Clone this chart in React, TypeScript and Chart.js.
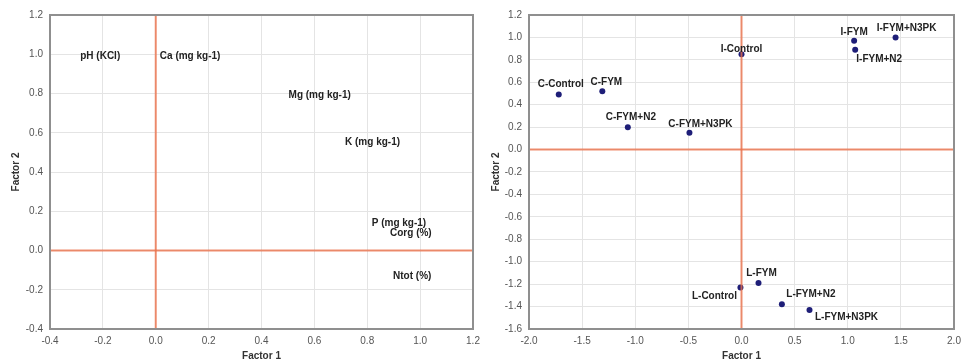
import React, { useEffect, useRef } from "react";
import { Chart, registerables } from "chart.js";

Chart.register(...registerables);

// ---- Data: factor loadings (left panel) ----
const loadingLabels = ["pH (KCl)", "Ca (mg kg-1)", "Mg (mg kg-1)", "K (mg kg-1)", "P (mg kg-1)", "Corg (%)", "Ntot (%)"];
const loadingF1 = [-0.21, 0.13, 0.62, 0.82, 0.92, 0.965, 0.97];
const loadingF2 = [0.99, 0.99, 0.79, 0.55, 0.14, 0.09, -0.13];

// ---- Data: factor scores (right panel) ----
const treatmentLabels = [
  "C-Control", "C-FYM", "C-FYM+N2", "C-FYM+N3PK",
  "I-Control", "I-FYM", "I-FYM+N2", "I-FYM+N3PK",
  "L-Control", "L-FYM", "L-FYM+N2", "L-FYM+N3PK",
];
const scoreF1 = [-1.72, -1.31, -1.07, -0.49, 0.0, 1.06, 1.07, 1.45, -0.01, 0.16, 0.38, 0.64];
const scoreF2 = [0.49, 0.52, 0.2, 0.15, 0.85, 0.97, 0.89, 1.0, -1.23, -1.19, -1.38, -1.43];

// ---- Tick labels ----
const leftXTicks = [-0.4, -0.2, 0.0, 0.2, 0.4, 0.6, 0.8, 1.0, 1.2];
const leftYTicks = [-0.4, -0.2, 0.0, 0.2, 0.4, 0.6, 0.8, 1.0, 1.2];
const rightXTicks = [-2.0, -1.5, -1.0, -0.5, 0.0, 0.5, 1.0, 1.5, 2.0];
const rightYTicks = [-1.6, -1.4, -1.2, -1.0, -0.8, -0.6, -0.4, -0.2, 0.0, 0.2, 0.4, 0.6, 0.8, 1.0, 1.2];
const refLines = [0];

const xTitle = "Factor 1";
const yTitle = "Factor 2";

// ---- Styles ----
const FONT = '"Liberation Sans", Arial, Helvetica, sans-serif';
const NAVY = "#1e1e78";
const GRID = "#e4e4e4";
const FRAME = "#8f8f8f";
const ZERO = "rgba(236,112,72,0.78)";
const TICK = "#555555";
const LABEL = "#222222";

// label offsets in px (style, not data)
const scoreLabelOffsets: Record<string, [number, number]> = {
  "C-Control": [2, -10],
  "C-FYM": [4, -9],
  "C-FYM+N2": [3, -10],
  "C-FYM+N3PK": [11, -9],
  "I-Control": [0, -5],
  "I-FYM": [0, -9],
  "I-FYM+N2": [24, 9],
  "I-FYM+N3PK": [11, -9],
  "L-Control": [-26, 9],
  "L-FYM": [3, -10],
  "L-FYM+N2": [29, -10],
  "L-FYM+N3PK": [37, 7],
};

type PanelProps = {
  labels: string[];
  xs: number[];
  ys: number[];
  xTicks: number[];
  yTicks: number[];
  pointRadius: number;
  offsets?: Record<string, [number, number]>;
  width: number;
  left: number;
  padRight: number;
  yAxisWidth: number;
};

function Panel(p: PanelProps) {
  const ref = useRef<HTMLCanvasElement | null>(null);
  useEffect(() => {
    if (!ref.current) return;
    const decor = {
      id: "decor",
      afterDatasetsDraw(chart: any) {
        const { ctx, chartArea: a, scales } = chart;
        const xs = scales.x;
        const ys = scales.y;
        ctx.save();
        ctx.strokeStyle = ZERO;
        ctx.lineWidth = 2;
        for (const v of refLines) {
          const px = xs.getPixelForValue(v);
          ctx.beginPath();
          ctx.moveTo(px, a.top);
          ctx.lineTo(px, a.bottom);
          ctx.stroke();
          const py = ys.getPixelForValue(v);
          ctx.beginPath();
          ctx.moveTo(a.left, py);
          ctx.lineTo(a.right, py);
          ctx.stroke();
        }
        ctx.strokeStyle = FRAME;
        ctx.lineWidth = 2;
        ctx.strokeRect(a.left, a.top, a.right - a.left, a.bottom - a.top);
        ctx.font = `bold 10px ${FONT}`;
        ctx.fillStyle = LABEL;
        ctx.textAlign = "center";
        ctx.textBaseline = "middle";
        const meta = chart.getDatasetMeta(0);
        meta.data.forEach((pt: any, i: number) => {
          const lab = p.labels[i];
          const off = (p.offsets && p.offsets[lab]) || [0, 0];
          ctx.fillText(lab, pt.x + off[0], pt.y + off[1]);
        });
        ctx.restore();
      },
    };
    const tickFont = { family: FONT, size: 10 };
    const titleFont = { family: FONT, size: 10, weight: "bold" as const };
    const chart = new Chart(ref.current, {
      type: "scatter",
      data: {
        datasets: [
          {
            data: p.xs.map((x, i) => ({ x, y: p.ys[i] })),
            pointRadius: p.pointRadius,
            pointHoverRadius: p.pointRadius,
            pointBackgroundColor: NAVY,
            pointBorderColor: NAVY,
            pointBorderWidth: 0,
          },
        ],
      },
      options: {
        responsive: false,
        animation: false,
        events: [],
        layout: { padding: { top: 15, right: p.padRight, left: 0, bottom: 0 } },
        plugins: { legend: { display: false }, tooltip: { enabled: false } },
        scales: {
          x: {
            type: "linear",
            min: p.xTicks[0],
            max: p.xTicks[p.xTicks.length - 1],
            afterBuildTicks: (s: any) => {
              s.ticks = p.xTicks.map((v) => ({ value: v }));
            },
            afterFit: (s: any) => {
              s.height = 33;
              s.paddingLeft = 0;
              s.paddingRight = 0;
            },
            grid: { color: GRID, lineWidth: 1, drawTicks: false },
            border: { display: false },
            ticks: {
              padding: 6,
              color: TICK,
              font: tickFont,
              maxRotation: 0,
              autoSkip: false,
              callback: (v: any) => Number(v).toFixed(1),
            },
            title: {
              display: true,
              text: xTitle,
              color: "#333",
              font: titleFont,
              padding: { top: 0, bottom: 0 },
            },
          },
          y: {
            type: "linear",
            min: p.yTicks[0],
            max: p.yTicks[p.yTicks.length - 1],
            afterBuildTicks: (s: any) => {
              s.ticks = p.yTicks.map((v) => ({ value: v }));
            },
            afterFit: (s: any) => {
              s.width = p.yAxisWidth;
              s.paddingTop = 0;
              s.paddingBottom = 0;
            },
            grid: { color: GRID, lineWidth: 1, drawTicks: false },
            border: { display: false },
            ticks: {
              padding: 7,
              color: TICK,
              font: tickFont,
              autoSkip: false,
              callback: (v: any) => Number(v).toFixed(1),
            },
            title: {
              display: true,
              text: yTitle,
              color: "#333",
              font: titleFont,
              padding: { top: 10, bottom: 0 },
            },
          },
        },
      },
      plugins: [decor],
    });
    return () => chart.destroy();
  }, []);
  return (
    <canvas
      ref={ref}
      width={p.width}
      height={362}
      style={{ position: "absolute", left: p.left, top: 0, width: p.width, height: 362 }}
    />
  );
}

export default function App() {
  return (
    <div style={{ position: "fixed", left: 0, top: 0, width: 963, height: 362, background: "#fff" }}>
      <Panel
        labels={loadingLabels}
        xs={loadingF1}
        ys={loadingF2}
        xTicks={leftXTicks}
        yTicks={leftYTicks}
        pointRadius={0}
        width={480}
        left={0}
        padRight={7}
        yAxisWidth={50}
      />
      <Panel
        labels={treatmentLabels}
        xs={scoreF1}
        ys={scoreF2}
        xTicks={rightXTicks}
        yTicks={rightYTicks}
        pointRadius={3}
        offsets={scoreLabelOffsets}
        width={483}
        left={480}
        padRight={9}
        yAxisWidth={49}
      />
    </div>
  );
}
